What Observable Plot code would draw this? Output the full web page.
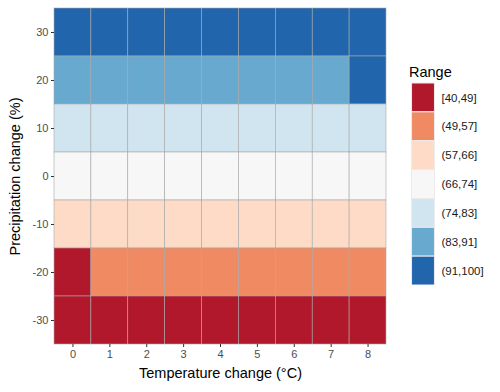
<!DOCTYPE html>
<html><head><meta charset="utf-8">
<script src="https://cdn.jsdelivr.net/npm/d3@7"></script>
<script src="https://cdn.jsdelivr.net/npm/@observablehq/plot@0.6"></script>
<style>
body{margin:0;background:#fff;font-family:"Liberation Sans",Arial,sans-serif;}
#wrap{position:relative;width:500px;height:392px;}
#main{position:absolute;left:0;top:0;}
#legend{position:absolute;left:406px;top:64px;}
#ltitle{position:absolute;left:409px;top:64px;font-size:14.5px;color:#000;}
</style></head>
<body><div id="wrap"><div id="main"></div><div id="ltitle">Range</div><div id="legend"></div></div>
<script>
const temps = [0,1,2,3,4,5,6,7,8];
const precips = [30,20,10,0,-10,-20,-30];
const ranges = ["[40,49]","(49,57]","(57,66]","(66,74]","(74,83]","(83,91]","(91,100]"];
const colors = ["#b2182b","#ef8a62","#fddbc7","#f7f7f7","#d1e5f0","#67a9cf","#2166ac"];
// range index per precip row (rows top to bottom), per temperature column
const grid = [
  [6,6,6,6,6,6,6,6,6],
  [5,5,5,5,5,5,5,5,6],
  [4,4,4,4,4,4,4,4,4],
  [3,3,3,3,3,3,3,3,3],
  [2,2,2,2,2,2,2,2,2],
  [0,1,1,1,1,1,1,1,1],
  [0,0,0,0,0,0,0,0,0]
];
const data = [];
precips.forEach((p,i)=>temps.forEach((t,j)=>data.push({t,p,r:ranges[grid[i][j]]})));

const main = Plot.plot({
  width:500, height:392,
  marginLeft:54, marginRight:114, marginTop:8, marginBottom:48,
  style:{fontFamily:"'Liberation Sans',Arial,sans-serif", fontSize:"11px", background:"transparent"},
  x:{type:"band", domain:temps, padding:0, round:false, label:null},
  y:{type:"band", domain:precips, padding:0, round:false, label:null},
  color:{type:"ordinal", domain:ranges, range:colors},
  marks:[
    Plot.cell(data,{x:"t", y:"p", fill:"r", stroke:"#a8a8a8", strokeWidth:0.6, inset:0}),
    Plot.axisX({tickSize:3, tickPadding:3, tickFormat:d=>String(d), fill:"#4d4d4d", stroke:"#333", fontSize:11}),
    Plot.axisY({tickSize:3, tickPadding:3, tickFormat:d=>String(d), fill:"#4d4d4d", stroke:"#333", fontSize:11}),
    Plot.text(["Temperature change (°C)"],{frameAnchor:"bottom", dy:29, lineAnchor:"middle", textAnchor:"middle", text:d=>d, fontSize:14.5, fill:"#000"}),
    Plot.text(["Precipitation change (%)"],{frameAnchor:"left", dx:-39, rotate:-90, lineAnchor:"middle", textAnchor:"middle", text:d=>d, fontSize:14.5, fill:"#000"})
  ]
});
document.getElementById("main").appendChild(main);

const legendData = ranges.map(r=>({r}));
const leg = Plot.plot({
  width:94, height:221,
  marginLeft:3, marginRight:63, marginTop:19, marginBottom:0,
  style:{fontFamily:"'Liberation Sans',Arial,sans-serif", background:"transparent"},
  x:{axis:null, domain:["k"], round:false},
  y:{type:"band", domain:ranges, padding:0, round:false, axis:null},
  color:{type:"ordinal", domain:ranges, range:colors},
  marks:[
    Plot.cell(legendData,{x:()=>"k", y:"r", fill:"r", stroke:"#ececec", strokeWidth:1}),
    Plot.text(legendData,{y:"r", text:"r", frameAnchor:"right", textAnchor:"start", dx:4, fontSize:11.5, fill:"#1a1a1a"})
  ]
});
document.getElementById("legend").appendChild(leg);
</script></body></html>
